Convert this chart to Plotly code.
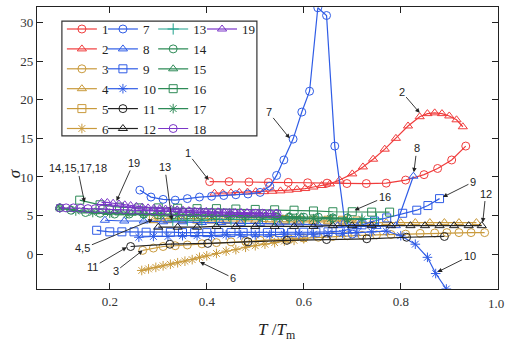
import plotly.graph_objects as go

# ---------------- data ----------------
x1 = [0.406,0.446,0.487,0.527,0.568,0.608,0.648,0.689,0.729,0.77,0.81,0.848,0.876,0.905,0.934]
y1 = [9.4,9.4,9.35,9.3,9.3,9.25,9.2,9.15,9.15,9.2,9.6,10.3,11.1,12.2,14.0]

x2 = [0.416,0.433,0.45,0.467,0.484,0.501,0.518,0.535,0.552,0.569,0.586,0.603,0.62,0.637,0.654,0.674,0.70,0.722,0.743,0.767,0.79,0.815,0.839,0.855,0.87,0.885,0.9,0.915,0.928]
y2 = [7.9,7.9,7.95,8.0,8.05,8.1,8.1,8.15,8.2,8.3,8.4,8.5,8.7,8.9,9.1,9.6,10.4,11.3,12.3,13.6,15.0,16.6,17.8,18.2,18.3,18.2,17.9,17.4,16.5]

x3 = [0.268,0.29,0.31,0.335,0.36,0.39,0.42,0.45,0.48,0.51,0.54,0.57,0.60,0.63,0.66,0.69,0.72,0.75,0.78,0.81,0.84,0.87,0.895,0.92,0.945,0.973]
y3 = [0.5,0.8,1.0,1.1,1.2,1.35,1.5,1.6,1.7,1.8,1.9,2.0,2.1,2.2,2.3,2.4,2.45,2.5,2.55,2.6,2.7,2.75,2.8,2.8,2.8,2.8]

x4 = [0.29,0.32,0.35,0.38,0.41,0.44,0.47,0.5,0.53,0.56,0.59,0.62,0.65,0.68,0.71,0.74,0.77,0.8,0.83,0.86,0.89,0.92,0.956]
y4 = [4.4,4.4,4.4,4.3,4.3,4.3,4.3,4.3,4.2,4.2,4.2,4.2,4.2,4.2,4.1,4.1,4.1,4.1,4.1,4.1,4.1,4.1,4.1]

x5 = [0.29,0.32,0.35,0.38,0.41,0.44,0.47,0.5,0.53,0.56,0.59,0.62,0.65,0.68,0.71]
y5 = [4.6,4.6,4.6,4.6,4.6,4.5,4.5,4.5,4.5,4.5,4.4,4.4,4.4,4.4,4.3]

x6 = [0.266,0.28,0.295,0.31,0.325,0.34,0.355,0.37,0.385,0.40,0.42,0.44,0.46,0.48,0.50,0.52,0.54,0.56,0.58,0.60]
y6 = [-2.1,-1.9,-1.7,-1.5,-1.3,-1.1,-0.9,-0.7,-0.4,-0.2,0.1,0.4,0.6,0.9,1.1,1.3,1.5,1.7,1.8,2.0]

x7 = [0.262,0.285,0.31,0.335,0.36,0.385,0.41,0.435,0.46,0.485,0.51,0.53,0.544,0.559,0.578,0.596,0.612,0.629,0.647,0.664,0.685,0.70]
y7 = [8.3,7.4,7.1,7.0,7.2,7.4,7.5,7.6,7.7,7.8,8.0,8.8,10.2,12.2,14.9,18.4,21.1,31.9,30.9,14.0,4.0,2.6]

x8 = [0.19,0.23,0.27,0.31,0.35,0.39,0.43,0.47,0.51,0.55,0.59,0.63,0.67,0.71,0.75,0.79,0.826]
y8 = [4.4,4.3,4.3,4.2,4.2,4.1,4.1,4.0,4.0,3.9,3.9,3.8,3.7,3.6,3.6,3.7,10.1]

x9 = [0.173,0.2,0.225,0.25,0.275,0.3,0.325,0.35,0.375,0.4,0.425,0.45,0.475,0.5,0.525,0.55,0.575,0.6,0.625,0.65,0.675,0.70,0.72,0.746,0.771,0.804,0.833,0.856,0.88]
y9 = [3.1,2.9,2.9,2.9,2.85,2.85,2.85,2.8,2.8,2.8,2.8,2.8,2.8,2.8,2.8,2.8,2.8,2.85,2.85,2.9,3.0,3.3,3.8,4.3,4.7,5.3,5.7,6.3,7.2]

x10 = [0.26,0.29,0.32,0.35,0.38,0.41,0.44,0.47,0.5,0.53,0.56,0.59,0.62,0.65,0.68,0.71,0.74,0.77,0.8,0.83,0.855,0.872,0.894]
y10 = [2.2,2.3,2.3,2.4,2.4,2.4,2.5,2.5,2.5,2.5,2.6,2.6,2.6,2.7,2.7,2.8,2.9,3.0,2.4,1.3,-0.4,-2.5,-4.5]

x11 = [0.243,0.324,0.402,0.485,0.565,0.647,0.73,0.812,0.89]
y11 = [1.0,1.3,1.4,1.6,1.8,1.9,2.0,2.2,2.3]

x12 = [0.30,0.34,0.38,0.42,0.46,0.50,0.54,0.58,0.62,0.66,0.70,0.74,0.78,0.82,0.85,0.88,0.91,0.94,0.967]
y12 = [3.5,3.5,3.5,3.6,3.6,3.6,3.6,3.6,3.6,3.7,3.7,3.7,3.7,3.7,3.7,3.7,3.7,3.7,3.7]

x13 = [0.33,0.36,0.39,0.42,0.45,0.48,0.51,0.54,0.57,0.6,0.63,0.66,0.69,0.72,0.75]
y13 = [4.4,4.4,4.4,4.5,4.5,4.5,4.5,4.5,4.6,4.6,4.6,4.6,4.6,4.6,4.6]

x14 = [0.097,0.12,0.15,0.18,0.21,0.24,0.27,0.30,0.33,0.36,0.39,0.42,0.45,0.48,0.51,0.54,0.57,0.60,0.63,0.66,0.69]
y14 = [6.0,5.7,5.4,5.3,5.2,5.2,5.2,5.1,5.1,5.1,5.0,5.0,5.0,4.9,4.9,4.9,4.8,4.8,4.8,4.7,4.7]

x15 = [0.097,0.12,0.145,0.17,0.195,0.22,0.245,0.27,0.295,0.32,0.345,0.37,0.395,0.42,0.445,0.47,0.495,0.52,0.545,0.57,0.595]
y15 = [6.0,5.8,5.6,5.5,5.4,5.35,5.3,5.3,5.25,5.2,5.2,5.15,5.1,5.1,5.05,5.0,5.0,4.95,4.9,4.9,4.85]

x16 = [0.138,0.18,0.22,0.26,0.30,0.34,0.38,0.42,0.46,0.50,0.54,0.58,0.62,0.66,0.70,0.74,0.777]
y16 = [7.0,6.4,6.1,6.0,6.0,5.95,5.9,5.9,5.85,5.8,5.75,5.7,5.6,5.5,5.5,5.45,5.45]

x17 = [0.097,0.13,0.165,0.2,0.235,0.27,0.305,0.34,0.375,0.41,0.445,0.48,0.515,0.55,0.585,0.62,0.655,0.69,0.72]
y17 = [6.0,5.6,5.4,5.3,5.2,5.1,5.1,5.0,5.0,4.9,4.9,4.8,4.8,4.7,4.7,4.6,4.6,4.5,4.5]

x18 = [0.097,0.11,0.125,0.14,0.155,0.17,0.185,0.2,0.215,0.23,0.245,0.26,0.275,0.29,0.305,0.32,0.335,0.35,0.365,0.38,0.395,0.41,0.425,0.44,0.455,0.47,0.485,0.5,0.515,0.53,0.545]
y18 = [6.0,6.0,6.0,5.95,5.9,5.9,5.85,5.8,5.8,5.75,5.7,5.7,5.65,5.6,5.6,5.55,5.5,5.5,5.5,5.45,5.4,5.4,5.4,5.35,5.35,5.3,5.3,5.3,5.3,5.25,5.25]

x19 = [0.183,0.195,0.207,0.219,0.231,0.243,0.255,0.267,0.279,0.291,0.303,0.315,0.327,0.339,0.351,0.363,0.375,0.387,0.399,0.411,0.423,0.435,0.447,0.459,0.471,0.483,0.495,0.507,0.519,0.531,0.543]
y19 = [6.7,6.7,6.6,6.5,6.4,6.3,6.2,6.1,6.0,5.95,5.9,5.85,5.8,5.75,5.7,5.65,5.6,5.6,5.55,5.5,5.5,5.45,5.45,5.4,5.4,5.4,5.35,5.35,5.3,5.3,5.3]

series_x = [x1,x2,x3,x4,x5,x6,x7,x8,x9,x10,x11,x12,x13,x14,x15,x16,x17,x18,x19]
series_y = [y1,y2,y3,y4,y5,y6,y7,y8,y9,y10,y11,y12,y13,y14,y15,y16,y17,y18,y19]
names = [str(i) for i in range(1, 20)]

x_ticks = [0.2, 0.4, 0.6, 0.8, 1.0]
x_ticklabels = ["0.2", "0.4", "0.6", "0.8", ""]
x_edge_label = "1.0"
y_ticks = [0, 5, 10, 15, 20, 25, 30]

# annotation labels: (text, x, y, ax, ay)
labels = [
    ("1", 0.404, 9.6, -21, -27),
    ("2", 0.839, 18.3, -18, -21),
    ("7", 0.571, 15.0, -21, -26),
    ("8", 0.827, 10.6, 3, -24),
    ("9", 0.887, 7.4, 30, -15),
    ("12", 0.969, 4.1, 3, -29),
    ("16", 0.705, 5.7, 30, -13),
    ("10", 0.876, -2.3, 32, -16),
    ("6", 0.386, -1.0, 33, 16),
    ("3", 0.268, 0.5, -27, 21),
    ("11", 0.235, 0.9, -34, 20),
    ("4,5", 0.289, 4.5, -70, 29),
    ("13", 0.328, 4.4, -7, -53),
    ("14,15,17,18", 0.148, 6.7, -7, -34),
    ("19", 0.214, 6.9, 17, -38),
]

# ---------------- styles ----------------
RED, GOLD, BLUE, BLACK = "#f03c3c", "#c99a3c", "#2f5ce6", "#222222"
TEAL, GREEN, PURPLE = "#1fa08c", "#2e8b57", "#7a35c8"
colors = [RED, RED, GOLD, GOLD, GOLD, GOLD, BLUE, BLUE, BLUE, BLUE, BLACK, BLACK,
          TEAL, GREEN, GREEN, GREEN, GREEN, PURPLE, PURPLE]
symbols = ["circle-open", "triangle-up-open", "circle-open", "triangle-up-open", "square-open",
           "asterisk-open", "circle-open", "triangle-up-open", "square-open", "asterisk-open",
           "circle-open", "triangle-up-open", "cross-thin-open", "circle-open", "triangle-up-open",
           "square-open", "asterisk-open", "circle-open", "triangle-up-open"]
legend_ids = (["legend"] * 6 + ["legend2"] * 6 + ["legend3"] * 6 + ["legend4"])

fig = go.Figure()
for i in range(19):
    fig.add_trace(go.Scatter(
        x=series_x[i], y=series_y[i], name=names[i], mode="lines+markers",
        line=dict(color=colors[i], width=1.2),
        marker=dict(symbol=symbols[i], size=8, color=colors[i], line=dict(width=1, color=colors[i])),
        legend=legend_ids[i],
    ))

SERIF = "Times New Roman"
SANS = "Arial"

for text, x, y, ax, ay in labels:
    fig.add_annotation(x=x, y=y, xref="x", yref="y", text=text, showarrow=True,
                       ax=ax, ay=ay, arrowhead=2, arrowsize=1, arrowwidth=0.9,
                       arrowcolor="#222", font=dict(family=SANS, size=11, color="#222"))

# right-edge tick label, kept inside the page
fig.add_annotation(x=1.0, xref="paper", y=0, yref="paper", yshift=-5, yanchor="top",
                   xanchor="right", xshift=8, text=x_edge_label, showarrow=False,
                   font=dict(family=SERIF, size=13, color="#333"))

# axis titles
fig.add_annotation(xref="paper", yref="paper", x=0.52, y=-0.148, yanchor="middle",
                   text="<i>T</i> /<i>T</i><sub>m</sub>", showarrow=False,
                   font=dict(family=SERIF, size=17, color="#222"))
fig.add_annotation(xref="paper", yref="paper", x=-0.075, y=0.41,
                   text="<i>σ</i>", showarrow=False, textangle=-90,
                   font=dict(family=SERIF, size=17, color="#222"))

# legend box
fig.add_shape(type="rect", xref="paper", yref="paper", x0=0.054, x1=0.477, y0=0.543, y1=0.95,
              line=dict(color="#333", width=1.2), fillcolor="rgba(0,0,0,0)")

leg_common = dict(orientation="v", yanchor="top", y=0.975, xanchor="left",
                  bgcolor="rgba(0,0,0,0)", borderwidth=0, itemwidth=30,
                  font=dict(family=SERIF, size=13, color="#222"), tracegroupgap=0)
fig.update_layout(
    legend=dict(x=0.054, **leg_common),
    legend2=dict(x=0.143, **leg_common),
    legend3=dict(x=0.252, **leg_common),
    legend4=dict(x=0.358, **leg_common),
)

axis_common = dict(showline=True, linecolor="#222", linewidth=1.3, mirror="ticks",
                   ticks="inside", ticklen=6, tickwidth=1.3, tickcolor="#222",
                   showgrid=False, zeroline=False, automargin=False,
                   tickfont=dict(family=SERIF, size=13, color="#333"))
fig.update_xaxes(range=[0.05, 1.0005], tickvals=x_ticks, ticktext=x_ticklabels, **axis_common)
fig.update_yaxes(range=[-4.5, 32], tickvals=y_ticks, **axis_common)

fig.update_layout(width=505, height=344, margin=dict(l=37, r=7, t=7, b=55, autoexpand=False),
                  font=dict(family=SERIF),
                  plot_bgcolor="white", paper_bgcolor="white", showlegend=True)

fig.write_html("out.html")
